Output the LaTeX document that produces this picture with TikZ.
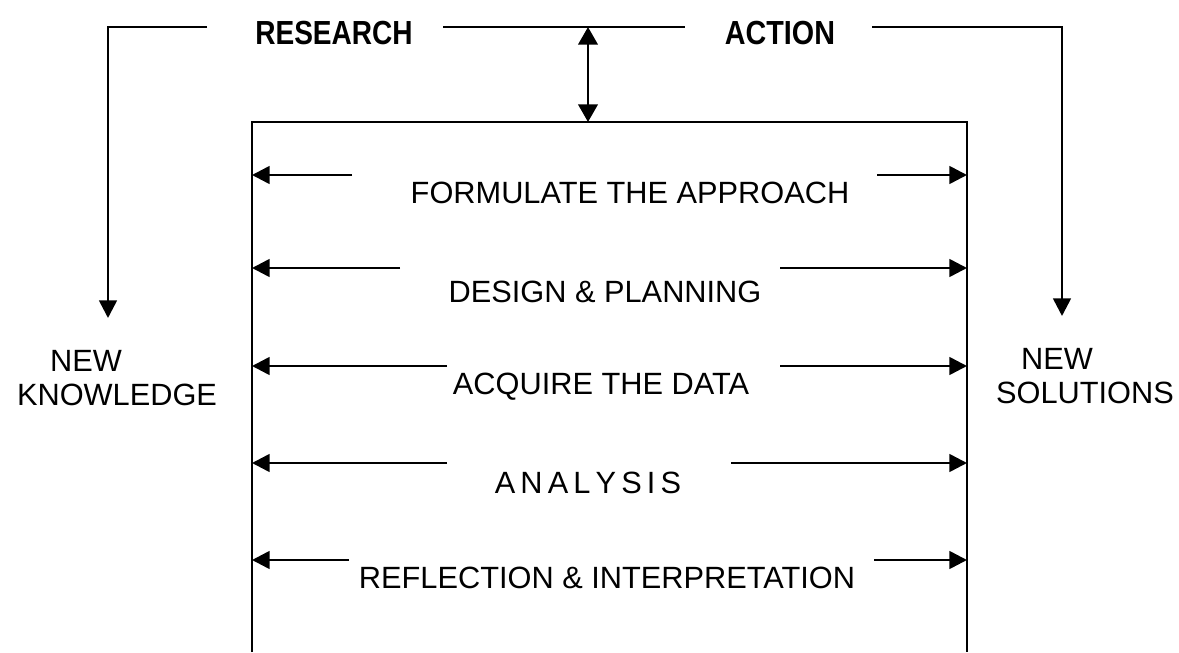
\documentclass[tikz,border=0pt]{standalone}
\usepackage{fontspec}
\setmainfont{Liberation Sans}
\usetikzlibrary{arrows.meta,positioning,calc}

\begin{document}
\begin{tikzpicture}
\tikzset{
    line/.style={line width=1.5pt},
    tip/.style={-{Triangle[length=10pt,width=10pt]}},
    tips/.style={{Triangle[length=10pt,width=11pt]}-{Triangle[length=10pt,width=11pt]}},
    step label/.style={inner sep=0pt, font=\fontsize{17.5}{20}\selectfont},
    head label/.style={inner sep=0pt, font=\fontsize{19}{22}\selectfont\bfseries}
}
\useasboundingbox (0,0) rectangle (23.58,13.04);
%
% the open box
\coordinate (boxtl) at (5.04,10.6);
\coordinate (boxtr) at (19.34,10.6);
\draw[line width=1.3pt] (boxtl |- 0,0) -- (boxtl) -- (boxtr) -- (boxtr |- 0,0);

% top line with the two headings
\node[head label] (research) at (6.68,12.38) {\scalebox{0.84}[1]{RESEARCH}};
\node[head label] (action) at (15.6,12.38) {\scalebox{0.86}[1]{ACTION}};
\coordinate (topl) at (2.16,12.5);
\coordinate (topr) at (21.24,12.5);
\coordinate (res w) at (4.14,12.5);
\coordinate (res e) at (8.86,12.5);
\coordinate (act w) at (13.7,12.5);
\coordinate (act e) at (17.44,12.5);
\coordinate (mid) at (11.76,12.5);
\coordinate (knowtip) at (2.16,6.68);
\coordinate (soltip) at (21.24,6.72);
\draw[line,tip] (res w) -- (topl) -- (knowtip);
\draw[line] (res e) -- (act w);
\draw[line,tip] (act e) -- (topr) -- (soltip);
\draw[line,tips] (mid) -- (mid |- boxtl);

\node[step label] (newk) at (1.72,5.82) {NEW};
\node[step label] (knowledge) at (2.34,5.14) {KNOWLEDGE};
\node[step label] (news) at (21.14,5.86) {NEW};
\node[step label] (solutions) at (21.7,5.18) {SOLUTIONS};

% the five steps
\node[step label] (formulate) at (12.6,9.18) {FORMULATE THE APPROACH};
\coordinate (f l) at (7.04,9.54);
\coordinate (f r) at (17.54,9.54);
\draw[line,tip] (f l) -- (boxtl |- f l);
\draw[line,tip] (f r) -- (boxtr |- f r);

\node[step label] (design) at (12.1,7.2) {DESIGN \& PLANNING};
\coordinate (d l) at (8.0,7.68);
\coordinate (d r) at (15.6,7.68);
\draw[line,tip] (d l) -- (boxtl |- d l);
\draw[line,tip] (d r) -- (boxtr |- d r);

\node[step label] (acquire) at (12.02,5.3) {ACQUIRE THE DATA};
\coordinate (q l) at (8.94,5.72);
\coordinate (q r) at (15.6,5.72);
\draw[line,tip] (q l) -- (boxtl |- q l);
\draw[line,tip] (q r) -- (boxtr |- q r);

\node[step label] (analysis) at (11.76,3.38) {A\,N\,A\,L\,Y\,S\,I\,S};
\coordinate (a l) at (8.94,3.78);
\coordinate (a r) at (14.62,3.78);
\draw[line,tip] (a l) -- (boxtl |- a l);
\draw[line,tip] (a r) -- (boxtr |- a r);

\node[step label] (reflection) at (12.14,1.48) {REFLECTION \& INTERPRETATION};
\coordinate (r l) at (6.98,1.84);
\coordinate (r r) at (17.48,1.84);
\draw[line,tip] (r l) -- (boxtl |- r l);
\draw[line,tip] (r r) -- (boxtr |- r r);
%\draw[help lines] (0,0) grid (23.58,13.04);
\end{tikzpicture}
\end{document}
